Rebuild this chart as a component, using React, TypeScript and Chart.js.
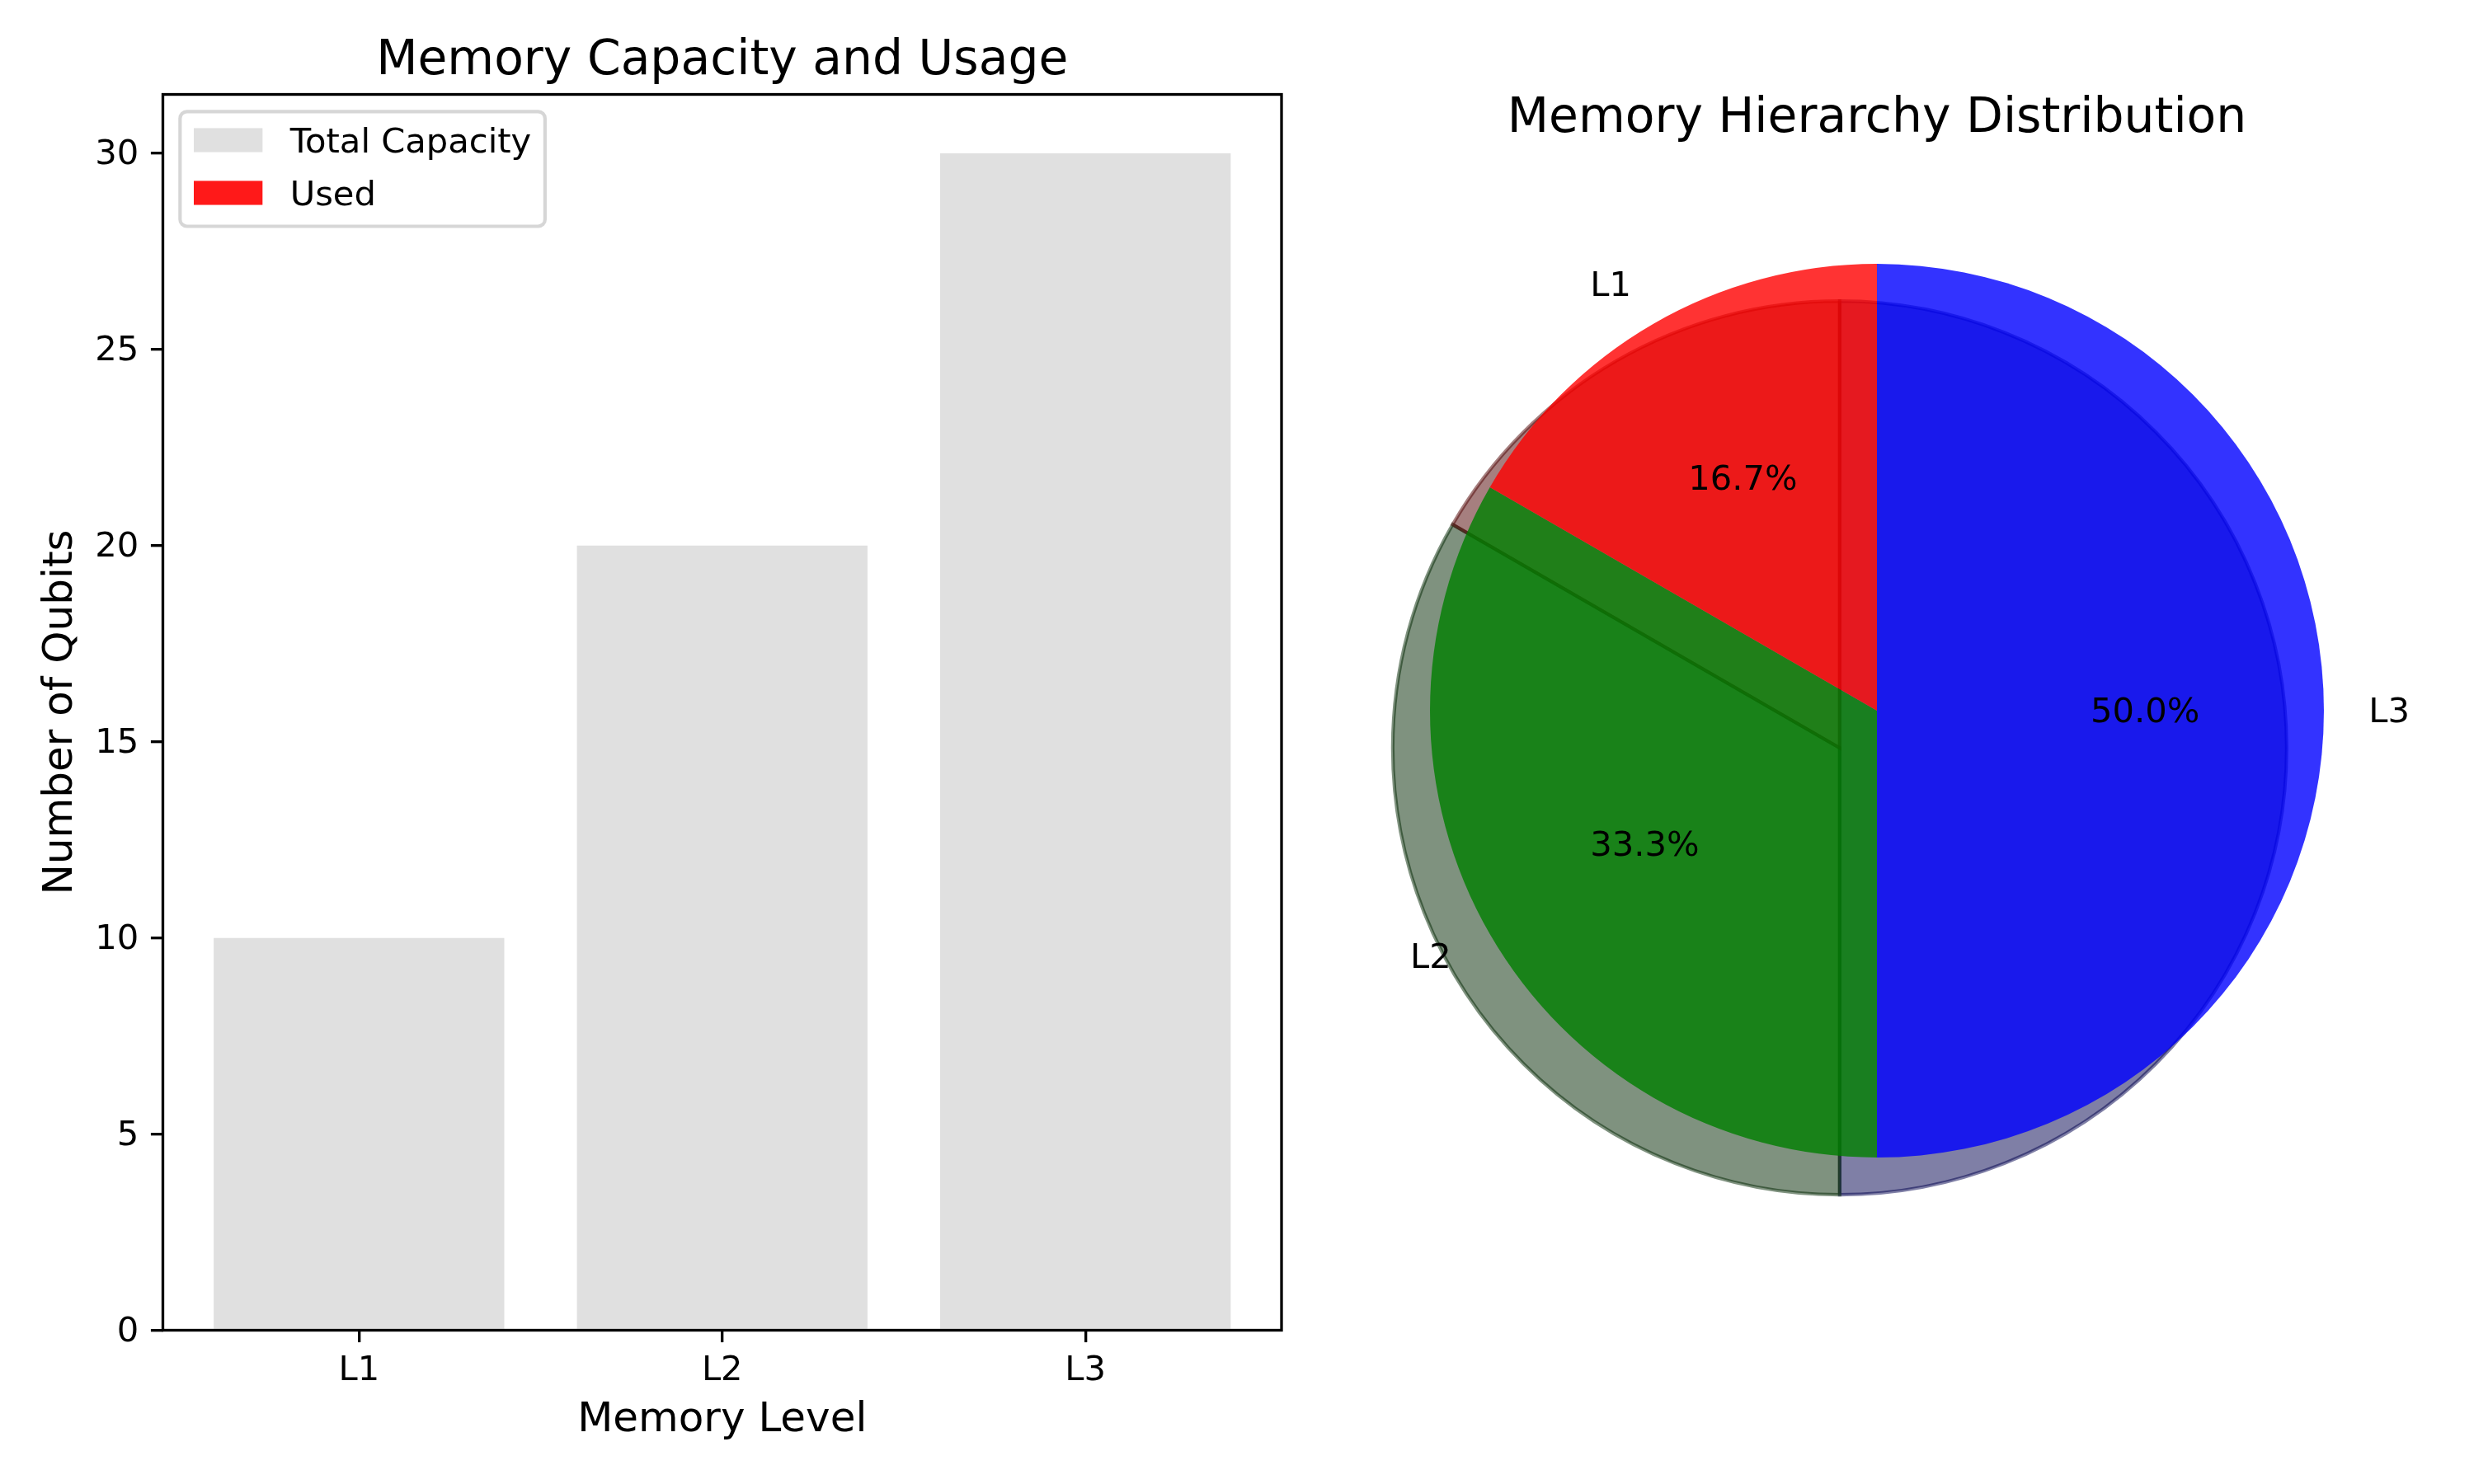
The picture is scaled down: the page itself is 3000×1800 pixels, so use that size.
import React, { useEffect, useRef } from 'react';
import { Chart, registerables } from 'chart.js';

Chart.register(...registerables);

// ---------------- data ----------------
const memoryLevels = ['L1', 'L2', 'L3'];
const totalCapacity = [10, 20, 30];
const usedQubits = [0, 0, 0];
const seriesLabels = ['Total Capacity', 'Used'];
const yTickValues = [0, 5, 10, 15, 20, 25, 30];

const barTitle = 'Memory Capacity and Usage';
const pieTitle = 'Memory Hierarchy Distribution';
const xAxisTitle = 'Memory Level';
const yAxisTitle = 'Number of Qubits';

// ---------------- styles ----------------
const PX = 300 / 72; // points -> pixels at 300 dpi
const FONT = "'DejaVu Sans', 'Liberation Sans', sans-serif";
const pieBaseRGB = [
  [255, 0, 0],
  [0, 128, 0],
  [0, 0, 255],
];
const WEDGE_ALPHA = 0.8;

const rgba = (c: number[], a: number) => `rgba(${c[0]},${c[1]},${c[2]},${a})`;

// full box spines
const framePlugin = {
  id: 'mplFrame',
  afterDatasetsDraw(chart: any) {
    const { ctx, chartArea } = chart;
    ctx.save();
    ctx.strokeStyle = '#000';
    ctx.lineWidth = 0.8 * PX;
    ctx.strokeRect(chartArea.left, chartArea.top, chartArea.right - chartArea.left, chartArea.bottom - chartArea.top);
    ctx.restore();
  },
};

// matplotlib-like legend in upper left
const legendPlugin = {
  id: 'mplLegend',
  afterDraw(chart: any) {
    const { ctx, chartArea } = chart;
    const fs = 10 * PX;
    const left = chartArea.left + 0.5 * fs;
    const top = chartArea.top + 0.5 * fs;
    const items = chart.data.datasets;
    ctx.save();
    ctx.font = `${fs}px ${FONT}`;
    const textLeft = left + 0.4 * fs + 2 * fs + 0.8 * fs;
    const maxW = Math.max(...items.map((d: any) => ctx.measureText(d.label).width));
    const w = textLeft - left + maxW + 0.4 * fs;
    const h = 3.34 * fs;
    const r = 0.2 * fs;
    ctx.beginPath();
    ctx.moveTo(left + r, top);
    ctx.lineTo(left + w - r, top);
    ctx.arcTo(left + w, top, left + w, top + r, r);
    ctx.lineTo(left + w, top + h - r);
    ctx.arcTo(left + w, top + h, left + w - r, top + h, r);
    ctx.lineTo(left + r, top + h);
    ctx.arcTo(left, top + h, left, top + h - r, r);
    ctx.lineTo(left, top + r);
    ctx.arcTo(left, top, left + r, top, r);
    ctx.closePath();
    ctx.fillStyle = 'rgba(255,255,255,0.8)';
    ctx.fill();
    ctx.strokeStyle = 'rgba(204,204,204,0.8)';
    ctx.lineWidth = 1.0 * PX;
    ctx.stroke();
    items.forEach((d: any, i: number) => {
      const baseline = top + 1.19 * fs + i * 1.536 * fs;
      ctx.fillStyle = d.backgroundColor;
      ctx.fillRect(left + 0.4 * fs, baseline - 0.71 * fs, 2 * fs, 0.7 * fs);
      ctx.fillStyle = '#000';
      ctx.textBaseline = 'alphabetic';
      ctx.textAlign = 'left';
      ctx.fillText(d.label, textLeft, baseline);
    });
    ctx.restore();
  },
};

// pie shadow (drawn beneath wedges)
const shadowPlugin = {
  id: 'pieShadow',
  beforeDatasetsDraw(chart: any) {
    const { ctx } = chart;
    const meta = chart.getDatasetMeta(0);
    const base: number[][] = chart.data.datasets[0].baseRGB;
    ctx.save();
    meta.data.forEach((arc: any, i: number) => {
      const { x, y, startAngle, endAngle, outerRadius } = arc.getProps(
        ['x', 'y', 'startAngle', 'endAngle', 'outerRadius'],
        true
      );
      const off = outerRadius * 0.02 * PX;
      const cx = x - off;
      const cy = y + off;
      const col = rgba(base[i].map((v) => v * 0.3), 0.5);
      ctx.beginPath();
      ctx.moveTo(cx, cy);
      ctx.arc(cx, cy, outerRadius, startAngle, endAngle);
      ctx.closePath();
      ctx.fillStyle = col;
      ctx.fill();
      ctx.strokeStyle = col;
      ctx.lineWidth = 1.0 * PX;
      ctx.stroke();
    });
    ctx.restore();
  },
};

// pie labels and percentages
const pieLabelPlugin = {
  id: 'pieLabels',
  afterDatasetsDraw(chart: any) {
    const { ctx } = chart;
    const meta = chart.getDatasetMeta(0);
    const values: number[] = chart.data.datasets[0].data;
    const total = values.reduce((a, b) => a + b, 0);
    ctx.save();
    ctx.font = `${10 * PX}px ${FONT}`;
    ctx.fillStyle = '#000';
    ctx.textBaseline = 'middle';
    const dy = 2.8;
    meta.data.forEach((arc: any, i: number) => {
      const { x, y, startAngle, endAngle, outerRadius: r } = arc.getProps(
        ['x', 'y', 'startAngle', 'endAngle', 'outerRadius'],
        true
      );
      const mid = (startAngle + endAngle) / 2;
      const c = Math.cos(mid);
      const s = Math.sin(mid);
      ctx.textAlign = c > 1e-9 ? 'left' : 'right';
      ctx.fillText(chart.data.labels[i], x + 1.1 * r * c, y + 1.1 * r * s + dy);
      ctx.textAlign = 'center';
      ctx.fillText(((values[i] / total) * 100).toFixed(1) + '%', x + 0.6 * r * c, y + 0.6 * r * s + dy);
    });
    ctx.restore();
  },
};

export default function App() {
  const barRef = useRef<HTMLCanvasElement>(null);
  const pieRef = useRef<HTMLCanvasElement>(null);

  useEffect(() => {
    Chart.defaults.font.family = FONT;
    Chart.defaults.color = '#000';

    const tickFont = { size: 10 * PX, family: FONT, lineHeight: 1 };
    const labelFont = { size: 12 * PX, family: FONT, lineHeight: 1 };
    const titleFont = { size: 14 * PX, family: FONT, weight: 'normal' as any, lineHeight: 1 };
    const gridOpts = {
      display: true,
      drawOnChartArea: false,
      drawTicks: true,
      offset: false,
      tickLength: 3.5 * PX,
      tickWidth: 0.8 * PX,
      tickColor: '#000',
      color: '#000',
      lineWidth: 0.8 * PX,
    };

    const bar = new Chart(barRef.current as HTMLCanvasElement, {
      type: 'bar',
      data: {
        datasets: [
          {
            label: seriesLabels[0],
            data: memoryLevels.map((_, i) => ({ x: i, y: totalCapacity[i] })),
            backgroundColor: 'rgba(211,211,211,0.7)',
            borderWidth: 0,
            grouped: false,
            barPercentage: 0.8,
            categoryPercentage: 1,
          } as any,
          {
            label: seriesLabels[1],
            data: memoryLevels.map((_, i) => ({ x: i, y: usedQubits[i] })),
            backgroundColor: 'rgba(255,0,0,0.9)',
            borderWidth: 0,
            grouped: false,
            barPercentage: 0.8,
            categoryPercentage: 1,
          } as any,
        ],
      },
      options: {
        responsive: false,
        animation: false,
        events: [],
        layout: { padding: { left: 0, right: 6, top: 0, bottom: 0 } },
        plugins: {
          legend: { display: false },
          tooltip: { enabled: false },
          title: {
            display: true,
            text: barTitle,
            font: titleFont,
            color: '#000',
            fullSize: false,
            padding: { top: 45.6, bottom: 10.6 },
          },
        },
        scales: {
          x: {
            type: 'linear',
            min: -0.54,
            max: 2.54,
            offset: false,
            grid: gridOpts as any,
            border: { display: false },
            afterBuildTicks: (axis: any) => {
              axis.ticks = memoryLevels.map((_, i) => ({ value: i }));
            },
            afterFit: (scale: any) => {
              scale.height = 186.5;
            },
            ticks: {
              autoSkip: false,
              maxRotation: 0,
              font: tickFont,
              color: '#000',
              padding: 14.6,
              callback: (v: any) => memoryLevels[Math.round(Number(v))] ?? '',
            },
            title: {
              display: true,
              text: xAxisTitle,
              font: labelFont,
              color: '#000',
              padding: { top: 0, bottom: 51.8 },
            },
          },
          y: {
            type: 'linear',
            min: 0,
            max: 31.5,
            offset: false,
            grid: gridOpts as any,
            border: { display: false },
            afterBuildTicks: (axis: any) => {
              axis.ticks = yTickValues.map((v) => ({ value: v }));
            },
            afterFit: (scale: any) => {
              scale.width = 197.5;
            },
            ticks: {
              autoSkip: false,
              font: tickFont,
              color: '#000',
              padding: 14.6,
              labelOffset: 2.5,
              callback: (v: any) => String(v),
            },
            title: {
              display: true,
              text: yAxisTitle,
              font: labelFont,
              color: '#000',
              padding: { top: 49.5, bottom: 0 },
            },
          },
        },
      },
      plugins: [framePlugin, legendPlugin],
    });

    const order = memoryLevels.map((_, i) => i).reverse();
    const pie = new Chart(pieRef.current as HTMLCanvasElement, {
      type: 'pie',
      data: {
        labels: order.map((i) => memoryLevels[i]),
        datasets: [
          {
            data: order.map((i) => totalCapacity[i]),
            backgroundColor: order.map((i) => rgba(pieBaseRGB[i], WEDGE_ALPHA)),
            baseRGB: order.map((i) => pieBaseRGB[i]),
            borderWidth: 0,
            hoverBorderWidth: 0,
            hoverOffset: 0,
            offset: 0,
          } as any,
        ],
      },
      options: {
        responsive: false,
        animation: false,
        events: [],
        layout: { padding: { left: 174, right: 182, top: 0, bottom: 396 } },
        plugins: {
          legend: { display: false },
          tooltip: { enabled: false },
          title: {
            display: true,
            text: pieTitle,
            font: titleFont,
            color: '#000',
            fullSize: false,
            padding: { top: 115.6, bottom: 146.1 },
          },
        },
      },
      plugins: [shadowPlugin, pieLabelPlugin],
    });

    return () => {
      bar.destroy();
      pie.destroy();
    };
  }, []);

  return (
    <div
      style={{
        position: 'absolute',
        left: 0,
        top: 0,
        width: 3000,
        height: 1800,
        background: '#fff',
        overflow: 'hidden',
      }}
    >
      <canvas
        ref={barRef}
        width={1560}
        height={1800}
        style={{ position: 'absolute', left: 0, top: 0, width: 1560, height: 1800 }}
      />
      <canvas
        ref={pieRef}
        width={1440}
        height={1800}
        style={{ position: 'absolute', left: 1560, top: 0, width: 1440, height: 1800 }}
      />
    </div>
  );
}
